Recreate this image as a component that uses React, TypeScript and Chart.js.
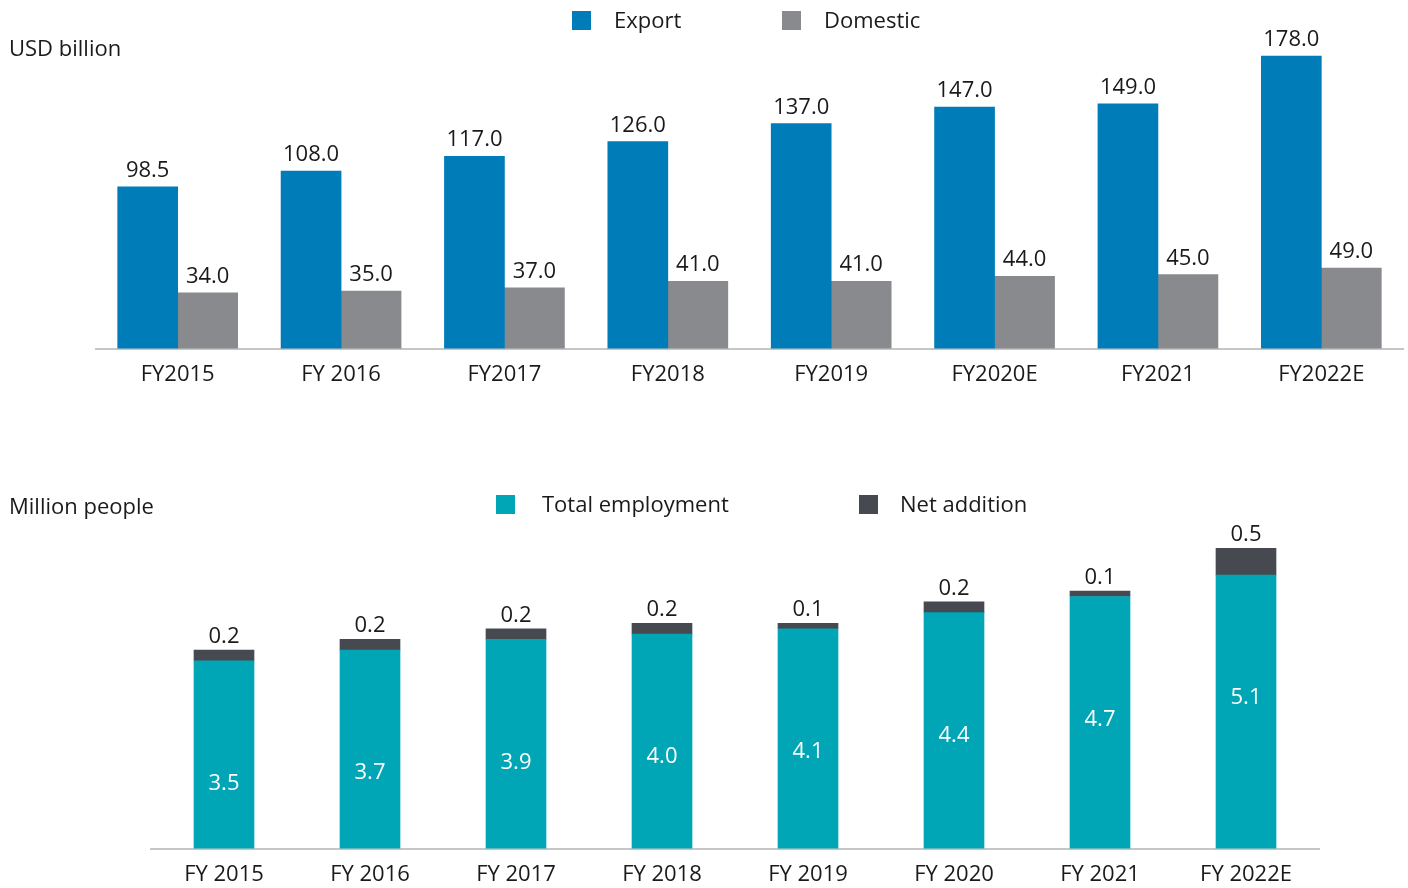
import React, { useEffect, useRef } from "react";
import { Chart, registerables } from "chart.js";

Chart.register(...registerables);

// ---- Data ----
const exportCategories = ["FY2015", "FY 2016", "FY2017", "FY2018", "FY2019", "FY2020E", "FY2021", "FY2022E"];
const exportValues = [98.5, 108.0, 117.0, 126.0, 137.0, 147.0, 149.0, 178.0];
const domesticValues = [34.0, 35.0, 37.0, 41.0, 41.0, 44.0, 45.0, 49.0];

const employmentCategories = ["FY 2015", "FY 2016", "FY 2017", "FY 2018", "FY 2019", "FY 2020", "FY 2021", "FY 2022E"];
const totalEmployment = [3.5, 3.7, 3.9, 4.0, 4.1, 4.4, 4.7, 5.1];
const netAddition = [0.2, 0.2, 0.2, 0.2, 0.1, 0.2, 0.1, 0.5];

// ---- Styles ----
const FONT = "'Open Sans', 'Noto Sans', sans-serif";
const TEXT = "#1a1a1a";
const BLUE = "#007cb8";
const GRAY = "#888a8d";
const TEAL = "#00a6b6";
const DARK = "#464950";
const AXIS = "#c6c6c6";

const topLabelsPlugin = {
  id: "topLabels",
  afterDatasetsDraw(chart: any) {
    const ctx = chart.ctx;
    ctx.save();
    ctx.font = `22px ${FONT}`;
    ctx.fillStyle = TEXT;
    ctx.textAlign = "center";
    ctx.textBaseline = "alphabetic";
    chart.data.datasets.forEach((ds: any, i: number) => {
      chart.getDatasetMeta(i).data.forEach((bar: any, j: number) => {
        ctx.fillText(Number(ds.data[j]).toFixed(1), bar.x, bar.y - 10);
      });
    });
    ctx.restore();
  },
};

const bottomLabelsPlugin = {
  id: "bottomLabels",
  afterDatasetsDraw(chart: any) {
    const ctx = chart.ctx;
    ctx.save();
    ctx.font = `22px ${FONT}`;
    ctx.textAlign = "center";
    const totalMeta = chart.getDatasetMeta(0);
    const netMeta = chart.getDatasetMeta(1);
    totalMeta.data.forEach((bar: any, j: number) => {
      ctx.fillStyle = "#ffffff";
      ctx.textBaseline = "middle";
      ctx.fillText(Number(chart.data.datasets[0].data[j]).toFixed(1), bar.x, bar.y + 123);
    });
    netMeta.data.forEach((bar: any, j: number) => {
      ctx.fillStyle = TEXT;
      ctx.textBaseline = "alphabetic";
      ctx.fillText(Number(chart.data.datasets[1].data[j]).toFixed(1), bar.x, bar.y - 7);
    });
    ctx.restore();
  },
};

function xAxis() {
  return {
    grid: { display: false, drawTicks: false },
    border: { display: true, color: AXIS, width: 2 },
    ticks: {
      color: TEXT,
      font: { family: FONT, size: 22 },
      padding: 13,
      maxRotation: 0,
      autoSkip: false,
    },
  };
}

export default function App() {
  const topRef = useRef<HTMLCanvasElement>(null);
  const bottomRef = useRef<HTMLCanvasElement>(null);

  useEffect(() => {
    const top = new Chart(topRef.current as HTMLCanvasElement, {
      type: "bar",
      data: {
        labels: exportCategories,
        datasets: [
          { label: "Export", data: exportValues, backgroundColor: BLUE, barThickness: 60 },
          { label: "Domestic", data: domesticValues, backgroundColor: GRAY, barThickness: 60 },
        ],
      },
      options: {
        responsive: false,
        animation: false,
        layout: { padding: { top: 20, left: 96, right: 5, bottom: 0 } },
        plugins: { legend: { display: false }, tooltip: { enabled: false } },
        scales: {
          x: xAxis() as any,
          y: { display: false, min: 0, max: 200 },
        },
      },
      plugins: [topLabelsPlugin],
    });

    const bottom = new Chart(bottomRef.current as HTMLCanvasElement, {
      type: "bar",
      data: {
        labels: employmentCategories,
        datasets: [
          { label: "Total employment", data: totalEmployment, backgroundColor: TEAL, barThickness: 60, stack: "s" },
          { label: "Net addition", data: netAddition, backgroundColor: DARK, barThickness: 60, stack: "s" },
        ],
      },
      options: {
        responsive: false,
        animation: false,
        layout: { padding: { top: 80, left: 151, right: 89, bottom: 0 } },
        plugins: { legend: { display: false }, tooltip: { enabled: false } },
        scales: {
          x: { ...(xAxis() as any), stacked: true },
          y: { display: false, min: 0, max: 6.5, stacked: true },
        },
      },
      plugins: [bottomLabelsPlugin],
    });

    return () => {
      top.destroy();
      bottom.destroy();
    };
  }, []);

  const textStyle = (left: number, top: number): React.CSSProperties => ({
    position: "absolute",
    left,
    top,
    fontFamily: FONT,
    fontSize: 22,
    lineHeight: "30px",
    color: TEXT,
    whiteSpace: "nowrap",
  });
  const boxStyle = (left: number, top: number, color: string): React.CSSProperties => ({
    position: "absolute",
    left,
    top,
    width: 19,
    height: 19,
    background: color,
  });

  return (
    <div style={{ position: "absolute", left: 0, top: 0, width: 1408, height: 888, background: "#ffffff", overflow: "hidden" }}>
      <div style={{ position: "absolute", left: 0, top: 0 }}>
        <canvas ref={topRef} width={1408} height={401} style={{ display: "block" }} />
      </div>
      <div style={{ position: "absolute", left: 0, top: 420 }}>
        <canvas ref={bottomRef} width={1408} height={481} style={{ display: "block" }} />
      </div>

      <div style={textStyle(9, 32)}>USD billion</div>
      <div style={boxStyle(572, 11, BLUE)} />
      <div style={textStyle(614, 4)}>Export</div>
      <div style={boxStyle(782, 11, GRAY)} />
      <div style={textStyle(824, 4)}>Domestic</div>

      <div style={textStyle(9, 489.5)}>Million people</div>
      <div style={boxStyle(496, 495, TEAL)} />
      <div style={textStyle(542, 488)}>Total employment</div>
      <div style={boxStyle(859, 495, DARK)} />
      <div style={textStyle(900, 488)}>Net addition</div>
    </div>
  );
}
